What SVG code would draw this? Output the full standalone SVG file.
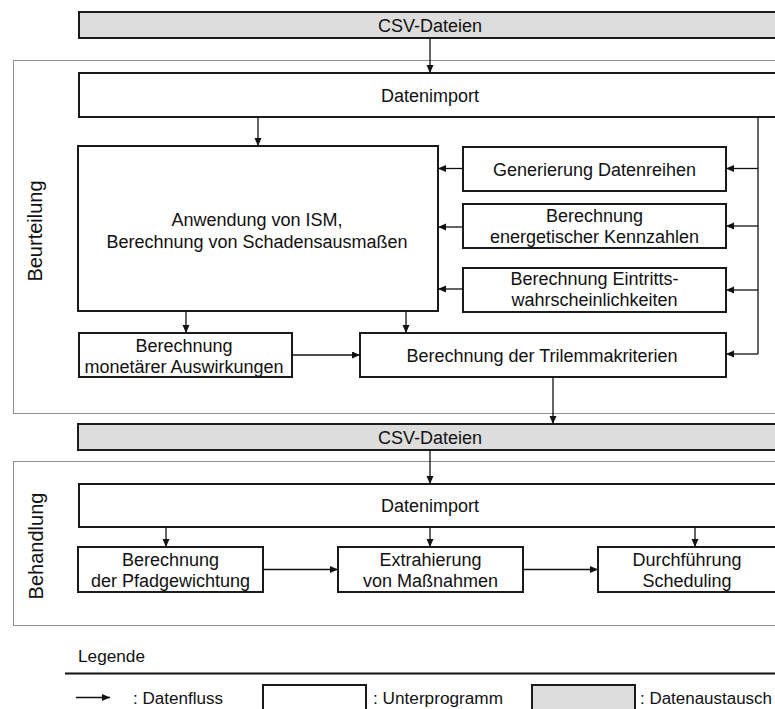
<svg xmlns="http://www.w3.org/2000/svg" width="775" height="709" viewBox="0 0 775 709">
  <defs>
    <marker id="arrow" markerUnits="userSpaceOnUse" markerWidth="9" markerHeight="8" refX="8" refY="3.5" orient="auto">
      <path d="M0,0 L8,3.5 L0,7 z" fill="#111"/>
    </marker>
  </defs>
  <style>
    text { font-family: "Liberation Sans", Arial, sans-serif; fill: #111; }
    .lbl { font-size: 18px; text-anchor: middle; }
    .side { font-size: 20px; text-anchor: middle; }
    .leg { font-size: 16px; }
    .box { fill: #fff; stroke: #1a1a1a; stroke-width: 2; }
    .data { fill: #dddddd; stroke: #1a1a1a; stroke-width: 2; }
    .frame { fill: none; stroke: #222; stroke-width: 1; stroke-dasharray: 1 1; }
    .conn { fill: none; stroke: #111; stroke-width: 1.3; }
    .flow { marker-end: url(#arrow); }
  </style>

  <rect width="775" height="709" fill="#fff"/>

  <!-- section frames -->
  <g id="frame-beurteilung">
    <rect class="frame" x="13.5" y="60.5" width="800" height="353"/>
    <text class="side" transform="translate(42,231) rotate(-90)">Beurteilung</text>
  </g>
  <g id="frame-behandlung">
    <rect class="frame" x="13.5" y="461.5" width="800" height="164"/>
    <text class="side" transform="translate(42.5,546) rotate(-90)">Behandlung</text>
  </g>

  <!-- nodes -->
  <g id="csv-in">
    <rect class="data" x="79" y="12" width="702" height="26"/>
    <text class="lbl" x="430" y="32">CSV-Dateien</text>
  </g>
  <g id="import-1">
    <rect class="box" x="79" y="73" width="702" height="44"/>
    <text class="lbl" x="430" y="102">Datenimport</text>
  </g>
  <g id="ism">
    <rect class="box" x="78" y="146" width="360" height="165"/>
    <text class="lbl" x="257" y="225.5">Anwendung von ISM,</text>
    <text class="lbl" x="257" y="247.5">Berechnung von Schadensausmaßen</text>
  </g>
  <g id="datenreihen">
    <rect class="box" x="463" y="147" width="263" height="44"/>
    <text class="lbl" x="594.5" y="175.5">Generierung Datenreihen</text>
  </g>
  <g id="kennzahlen">
    <rect class="box" x="463" y="204" width="263" height="44"/>
    <text class="lbl" x="594.5" y="222">Berechnung</text>
    <text class="lbl" x="594.5" y="243">energetischer Kennzahlen</text>
  </g>
  <g id="eintritt">
    <rect class="box" x="463" y="268" width="263" height="44"/>
    <text class="lbl" x="594.5" y="284.5">Berechnung Eintritts-</text>
    <text class="lbl" x="594.5" y="305.5">wahrscheinlichkeiten</text>
  </g>
  <g id="monetaer">
    <rect class="box" x="79" y="333" width="213" height="44"/>
    <text class="lbl" x="184" y="351.5">Berechnung</text>
    <text class="lbl" x="184" y="372.5">monetärer Auswirkungen</text>
  </g>
  <g id="trilemma">
    <rect class="box" x="360" y="333" width="366" height="44"/>
    <text class="lbl" x="542" y="362">Berechnung der Trilemmakriterien</text>
  </g>
  <g id="csv-mid">
    <rect class="data" x="78" y="424" width="703" height="26"/>
    <text class="lbl" x="430" y="443.5">CSV-Dateien</text>
  </g>
  <g id="import-2">
    <rect class="box" x="79" y="484" width="702" height="43"/>
    <text class="lbl" x="430" y="512">Datenimport</text>
  </g>
  <g id="pfad">
    <rect class="box" x="78" y="547" width="185" height="45"/>
    <text class="lbl" x="170.5" y="566">Berechnung</text>
    <text class="lbl" x="170.5" y="587">der Pfadgewichtung</text>
  </g>
  <g id="massnahmen">
    <rect class="box" x="338" y="547" width="185" height="45"/>
    <text class="lbl" x="430.5" y="566">Extrahierung</text>
    <text class="lbl" x="430.5" y="587">von Maßnahmen</text>
  </g>
  <g id="scheduling">
    <rect class="box" x="598" y="547" width="180" height="45"/>
    <text class="lbl" x="687" y="566">Durchführung</text>
    <text class="lbl" x="687" y="587">Scheduling</text>
  </g>

  <!-- connectors -->
  <g id="connectors">
    <line class="conn flow" x1="430" y1="38" x2="430" y2="73"/>
    <line class="conn flow" x1="258" y1="117" x2="258" y2="146"/>
    <polyline class="conn" points="758,117 758,354"/>
    <line class="conn flow" x1="758" y1="168.5" x2="726" y2="168.5"/>
    <line class="conn flow" x1="758" y1="226" x2="726" y2="226"/>
    <line class="conn flow" x1="758" y1="290" x2="726" y2="290"/>
    <line class="conn flow" x1="758" y1="354" x2="726" y2="354"/>
    <line class="conn flow" x1="463" y1="168.5" x2="438" y2="168.5"/>
    <line class="conn flow" x1="463" y1="227" x2="438" y2="227"/>
    <line class="conn flow" x1="463" y1="289" x2="438" y2="289"/>
    <line class="conn flow" x1="186" y1="311" x2="186" y2="333"/>
    <line class="conn flow" x1="406" y1="311" x2="406" y2="333"/>
    <line class="conn flow" x1="292" y1="355" x2="360" y2="355"/>
    <line class="conn flow" x1="553" y1="377" x2="553" y2="424"/>
    <line class="conn flow" x1="430" y1="450" x2="430" y2="484"/>
    <line class="conn flow" x1="166" y1="527" x2="166" y2="547"/>
    <line class="conn flow" x1="430" y1="527" x2="430" y2="547"/>
    <line class="conn flow" x1="695" y1="527" x2="695" y2="547"/>
    <line class="conn flow" x1="263" y1="569.5" x2="338" y2="569.5"/>
    <line class="conn flow" x1="523" y1="569.5" x2="598" y2="569.5"/>
  </g>

  <!-- legend -->
  <g id="legend">
    <text class="leg" x="78" y="662" textLength="67" lengthAdjust="spacingAndGlyphs">Legende</text>
    <line x1="65" y1="673.5" x2="775" y2="673.5" stroke="#111" stroke-width="1.8"/>
    <line class="conn flow" x1="76" y1="697.5" x2="110" y2="697.5"/>
    <text class="leg" x="133" y="704" textLength="90" lengthAdjust="spacingAndGlyphs">: Datenfluss</text>
    <rect class="box" x="263" y="685" width="103" height="35"/>
    <text class="leg" x="373" y="704" textLength="130" lengthAdjust="spacingAndGlyphs">: Unterprogramm</text>
    <rect class="data" x="532" y="685" width="103" height="35"/>
    <text class="leg" x="640" y="704" textLength="132" lengthAdjust="spacingAndGlyphs">: Datenaustausch</text>
  </g>
</svg>
